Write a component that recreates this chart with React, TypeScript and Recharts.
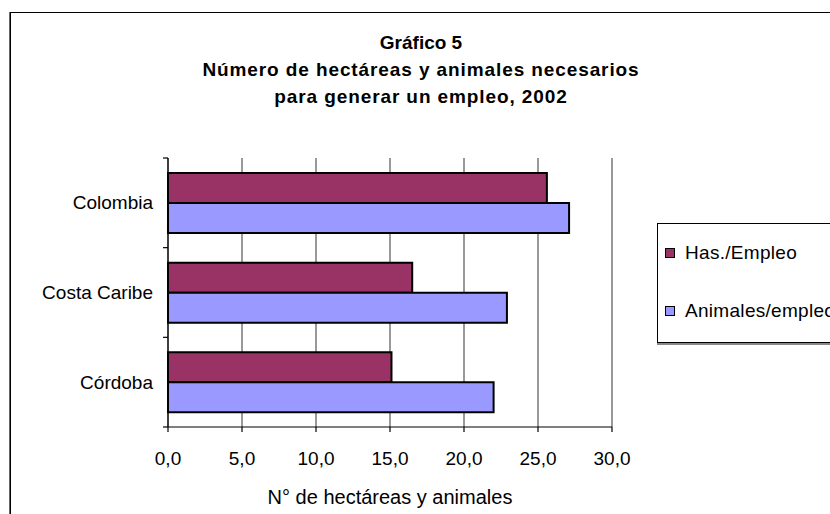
import { BarChart, Bar, XAxis, YAxis, CartesianGrid, Legend } from 'recharts';

const REGIONES = ['Colombia', 'Costa Caribe', 'Córdoba'];
const HAS_EMPLEO = [25.6, 16.5, 15.1];
const ANIMALES_EMPLEO = [27.1, 22.9, 22.0];
const X_TICKS = [0, 5, 10, 15, 20, 25, 30];

const SERIES = [
  { key: 'has', name: 'Has./Empleo', color: '#993366' },
  { key: 'animales', name: 'Animales/empleo', color: '#9999FF' },
];

const FONT = '"Liberation Sans", Arial, sans-serif';

const data = REGIONES.map((r, i) => ({
  region: r,
  has: HAS_EMPLEO[i],
  animales: ANIMALES_EMPLEO[i],
}));

const fmt = (v: number) => v.toFixed(1).replace('.', ',');

// category label at band centre, tick marks at band edges (Excel style)
function RegionTick(props: any) {
  const { x, y, payload, index, visibleTicksCount } = props;
  const half = payload.offset ?? 0;
  const isLast = index === visibleTicksCount - 1;
  return (
    <g>
      <line x1={x + 1} x2={x + 6} y1={y - half} y2={y - half} stroke="#000" strokeWidth={1.2} />
      {isLast && (
        <line x1={x + 1} x2={x + 6} y1={y + half} y2={y + half} stroke="#000" strokeWidth={1.2} />
      )}
      <text x={x - 9} y={y} dy="0.35em" textAnchor="end" fontSize={19} fill="#000" fontFamily={FONT}>
        {payload.value}
      </text>
    </g>
  );
}

function LegendBox({ payload }: any) {
  const items = SERIES.map((s) => (payload || []).find((p: any) => p.value === s.name) || { value: s.name, color: s.color });
  return (
    <div
      style={{
        border: '1px solid #000',
        boxShadow: '0 2px 0 #888',
        height: 120,
        width: 190,
        background: '#fff',
        fontFamily: FONT,
        fontSize: 19,
        boxSizing: 'border-box',
        paddingTop: 18,
        paddingLeft: 7,
      }}
    >
      {items.map((p: any, i: number) => (
        <div key={p.value} style={{ display: 'flex', alignItems: 'center', height: 22, marginTop: i ? 36 : 0 }}>
          <span
            style={{
              display: 'inline-block',
              width: 8,
              height: 8,
              border: '1px solid #000',
              background: p.color,
              marginRight: 10,
            }}
          />
          <span style={{ whiteSpace: 'nowrap', letterSpacing: 0.3 }}>{p.value}</span>
        </div>
      ))}
    </div>
  );
}

export default function App() {
  return (
    <div style={{ position: 'fixed', left: 0, top: 0, width: 830, height: 514, overflow: 'hidden', background: '#fff' }}>
      <div
        style={{
          position: 'absolute',
          left: 10,
          top: 12,
          width: 900,
          height: 600,
          border: '1px solid #000',
          boxShadow: '-1px 0 0 #666',
        }}
      />
      <div
        style={{
          position: 'absolute',
          left: 0,
          width: 842,
          top: 29,
          textAlign: 'center',
          fontFamily: FONT,
          fontWeight: 'bold',
          fontSize: 19,
          letterSpacing: 0.9,
          lineHeight: '27px',
        }}
      >
        <div style={{ letterSpacing: 0 }}>Gráfico 5</div>
        <div>Número de hectáreas y animales necesarios</div>
        <div>para generar un empleo, 2002</div>
      </div>
      <div style={{ position: 'absolute', left: 0, top: 0 }}>
        <BarChart
          width={830}
          height={514}
          data={data}
          layout="vertical"
          margin={{ top: 158, right: 218, bottom: 0, left: 0 }}
          barGap={0}
          barSize={30}
        >
          <CartesianGrid horizontal={false} stroke="#555" strokeWidth={1.2} />
          <XAxis
            type="number"
            domain={[0, 30]}
            ticks={X_TICKS}
            tickFormatter={fmt}
            height={87}
            tickSize={5}
            tickMargin={20}
            axisLine={{ stroke: '#000', strokeWidth: 1.2 }}
            tickLine={{ stroke: '#000', strokeWidth: 1.2 }}
            tick={{ fill: '#000', fontSize: 19, fontFamily: FONT }}
            label={{
              value: 'N° de hectáreas y animales',
              position: 'insideBottom',
              offset: 10,
              fill: '#000',
              fontSize: 20,
              fontFamily: FONT,
            }}
          />
          <YAxis
            type="category"
            dataKey="region"
            width={168}
            tickLine={false}
            axisLine={{ stroke: '#000', strokeWidth: 1.2 }}
            tick={<RegionTick />}
            tickMargin={0}
            interval={0}
          />
          <Legend
            layout="horizontal"
            align="center"
            verticalAlign="middle"
            content={<LegendBox />}
            wrapperStyle={{ position: 'absolute', left: 657, top: 223, width: 190 }}
          />
          {SERIES.map((s) => (
            <Bar
              key={s.key}
              dataKey={s.key}
              name={s.name}
              fill={s.color}
              stroke="#000"
              strokeWidth={2}
              isAnimationActive={false}
            />
          ))}
        </BarChart>
      </div>
    </div>
  );
}
